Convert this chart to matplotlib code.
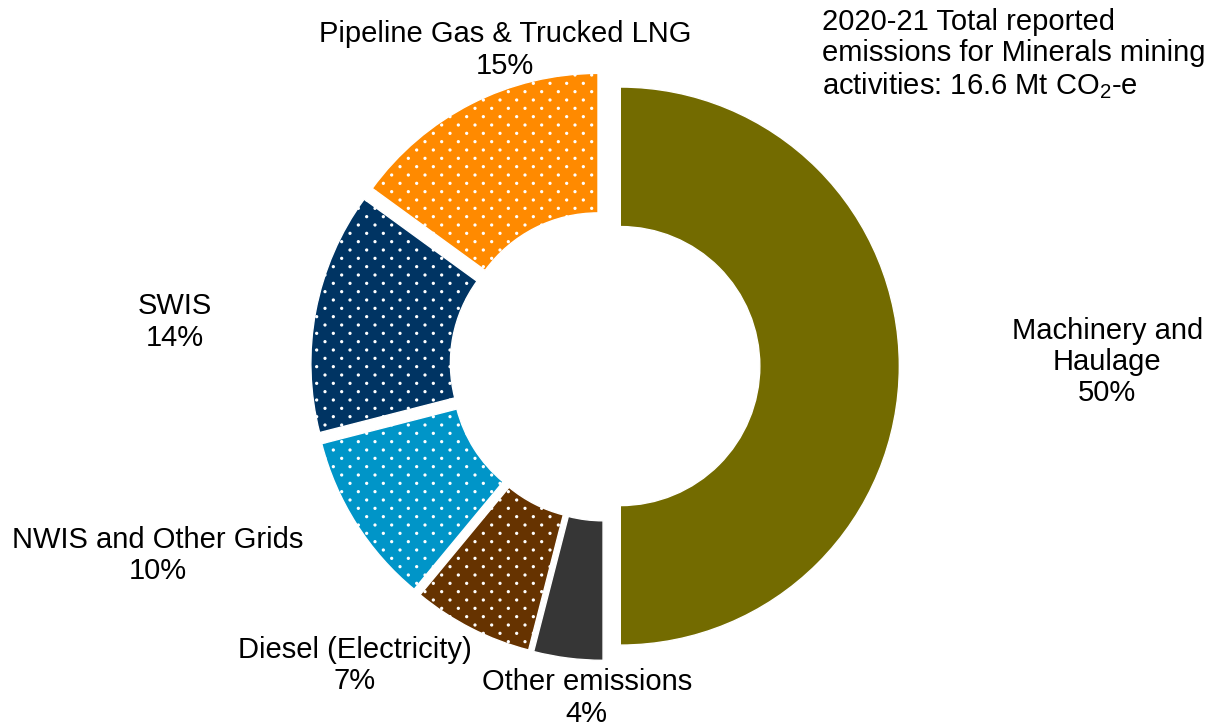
import numpy as np
import matplotlib
matplotlib.use("Agg")
import matplotlib.hatch as mhatch
from matplotlib import pyplot as plt
from matplotlib.path import Path

labels = ["Machinery and\nHaulage", "Other emissions", "Diesel (Electricity)",
          "NWIS and Other Grids", "SWIS", "Pipeline Gas & Trucked LNG"]
shares = [50, 4, 7, 10, 14, 15]
colors = ["#736b00", "#363636", "#663300", "#0095c8", "#003463", "#ff8a00"]
hatches = [None, None, ".", ".", ".", "."]
# label centres in pie units (radius = 1)
label_pos = [(1.80, 0.014), (-0.065, -1.19), (-0.896, -1.072),
             (-1.602, -0.68), (-1.541, 0.158), (-0.358, 1.133)]
title = "2020-21 Total reported\nemissions for Minerals mining\nactivities: 16.6 Mt CO$_2$-e"


class StaggeredDots(mhatch.Shapes):
    # dots every 1/n horizontally, rows every 1/(2n), alternate rows shifted
    filled = True
    size = 0.055

    def __init__(self, hatch, density):
        self.num_rows = hatch.count('.') * density
        path = Path.unit_circle()
        self.shape_vertices = path.vertices
        self.shape_codes = path.codes
        n = self.num_rows
        if n == 0:
            self.num_shapes = 0
            self.num_vertices = 0
        else:
            self.num_shapes = (n + 1) ** 2 + n ** 2
            self.num_vertices = self.num_shapes * len(self.shape_vertices)

    def set_vertices_and_codes(self, vertices, codes):
        n = self.num_rows
        offset = 1.0 / n
        verts = self.shape_vertices * offset * self.size
        vparts, cparts = [], []
        for row in range(2 * n + 1):
            if row % 2 == 0:
                cols = np.linspace(0, 1, n + 1)
            else:
                cols = np.linspace(offset / 2, 1 - offset / 2, n)
            for c in cols:
                vparts.append(verts + [c, row * offset / 2])
                cparts.append(self.shape_codes)
        np.concatenate(vparts, out=vertices)
        np.concatenate(cparts, out=codes)


mhatch._hatch_types = [StaggeredDots if t is mhatch.SmallFilledCircles else t
                       for t in mhatch._hatch_types]

plt.rcParams['font.family'] = ['Liberation Sans', 'DejaVu Sans']
plt.rcParams['mathtext.fontset'] = 'custom'
plt.rcParams['mathtext.rm'] = 'Liberation Sans'
plt.rcParams['mathtext.default'] = 'regular'


def main():
    fig = plt.figure(figsize=(12.13, 7.26), dpi=100)
    ax = fig.add_axes([0, 0, 1, 1])
    wedges, _ = ax.pie(shares, colors=colors, startangle=90, counterclock=False,
                       explode=[0.055] * len(shares), radius=1,
                       wedgeprops=dict(width=0.5, edgecolor="white", linewidth=1))
    for w, h in zip(wedges, hatches):
        if h:
            w.set_hatch(h)

    for lab, s, (x, y) in zip(labels, shares, label_pos):
        ax.text(x, y, f"{lab}\n{s}%", ha="center", va="center",
                multialignment="center", fontsize=21, color="black",
                linespacing=1.15)

    ax.text(0.778, 1.285, title, ha="left", va="top", fontsize=21,
            linespacing=1.15)

    ax.set_xlim(-2.168, 2.179)
    ax.set_ylim(-1.290, 1.312)
    ax.set_aspect("equal")
    ax.axis("off")
    fig.savefig("out.png", dpi=100)


if __name__ == "__main__":
    main()
